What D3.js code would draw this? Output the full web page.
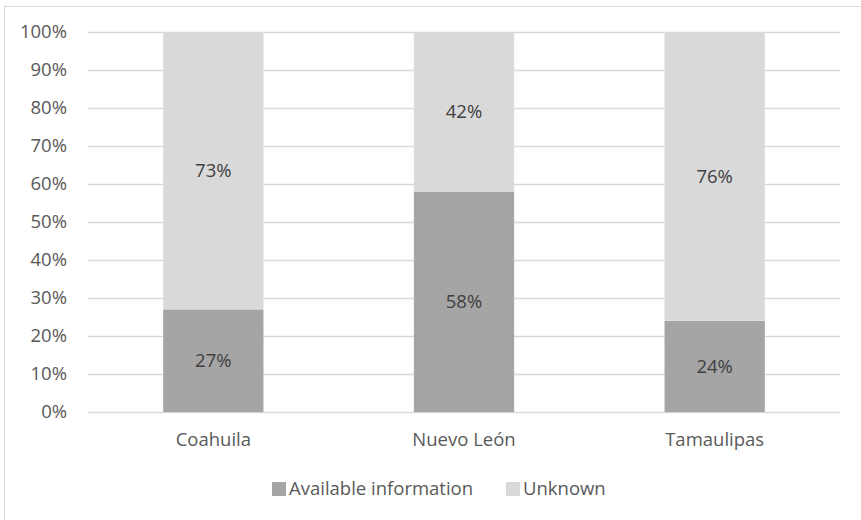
<!DOCTYPE html>
<html><head><meta charset="utf-8">
<script src="https://cdn.jsdelivr.net/npm/d3@7"></script>
<style>body{margin:0;background:#fff}svg{display:block}svg text{font-family:"Open Sans",Lato,sans-serif}</style>
</head><body><svg id="c" width="861" height="520"></svg>
<script>
const categories = ["Coahuila", "Nuevo León", "Tamaulipas"];
const available = [27, 58, 24];
const unknown = [73, 42, 76];
const seriesNames = ["Available information", "Unknown"];
const seriesColors = ["#a5a5a5", "#d9d9d9"];
const yTicks = [0,10,20,30,40,50,60,70,80,90,100];

const svg = d3.select("#c");
const m = {l:88, r:21, t:32, b:108};
const W = 861, H = 520;
const FS = "18.5px";
const x = d3.scaleBand().domain(categories).range([m.l, W-m.r]).paddingInner(0.6).paddingOuter(0.3);
const y = d3.scaleLinear().domain([0,100]).range([H-m.b, m.t]);

// outer border
svg.append("rect").attr("x",4.5).attr("y",6.5).attr("width",W).attr("height",H).attr("fill","none").attr("stroke","#d9d9d9");

// grid
const yAxis = d3.axisLeft(y).tickValues(yTicks).tickFormat(d=>d+"%").tickSize(-(W-m.r-m.l)).tickPadding(21);
const ga = svg.append("g").attr("transform",`translate(${m.l},0)`).call(yAxis);
ga.select(".domain").remove();
ga.selectAll(".tick line").attr("stroke","#d9d9d9").attr("stroke-width",1.3);
ga.selectAll(".tick text").attr("fill","#595959").style("font-size",FS);

const stackData = categories.map((c,i)=>({cat:c, a:available[i], u:unknown[i]}));
const stack = d3.stack().keys(["a","u"])(stackData);
const g = svg.append("g");
stack.forEach((s,si)=>{
  g.selectAll(null).data(s).join("rect")
    .attr("x",d=>x(d.data.cat)).attr("width",x.bandwidth())
    .attr("y",d=>y(d[1])).attr("height",d=>y(d[0])-y(d[1]))
    .attr("fill",seriesColors[si]);
  g.selectAll(null).data(s).join("text")
    .attr("x",d=>x(d.data.cat)+x.bandwidth()/2)
    .attr("y",d=>(y(d[0])+y(d[1]))/2)
    .attr("text-anchor","middle").attr("dy","0.35em")
    .attr("fill","#404040").style("font-size",FS)
    .text(d=>(d[1]-d[0])+"%");
});

// x axis
const xa = svg.append("g").attr("transform",`translate(0,${y(0)})`).call(d3.axisBottom(x).tickSize(0).tickPadding(21));
xa.select(".domain").remove();
xa.selectAll(".tick text").attr("fill","#595959").style("font-size",FS);

// legend
const legX = [272, 506];
const lg = svg.append("g");
seriesNames.forEach((n,i)=>{
  lg.append("rect").attr("x",legX[i]).attr("y",482).attr("width",14).attr("height",14).attr("fill",seriesColors[i]);
  lg.append("text").attr("x",legX[i]+17).attr("y",489).attr("dy","0.35em").attr("fill","#595959").style("font-size",FS).text(n);
});
</script></body></html>
